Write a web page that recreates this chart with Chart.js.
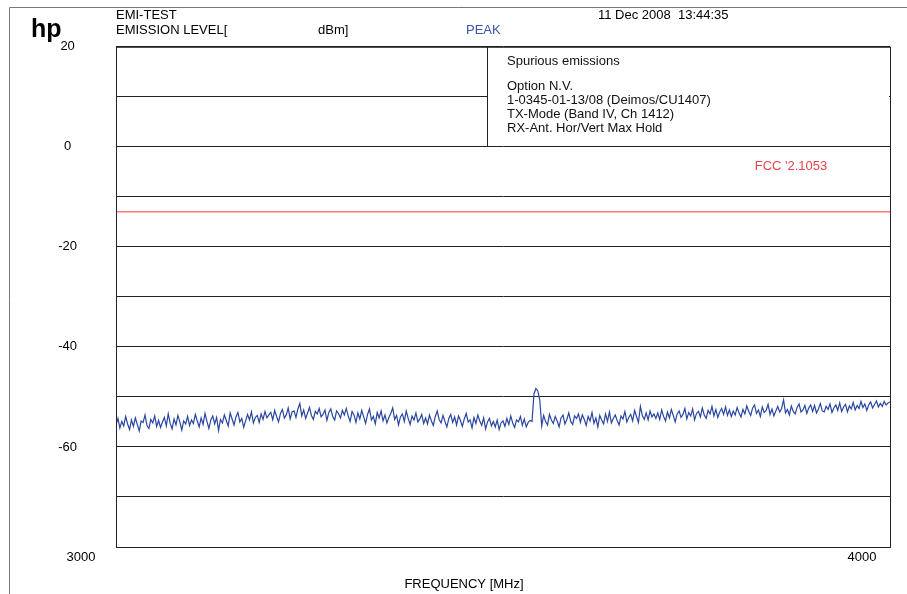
<!DOCTYPE html>
<html>
<head>
<meta charset="utf-8">
<script src="https://cdn.jsdelivr.net/npm/chart.js@4.4.1/dist/chart.umd.min.js"></script>
<style>
  html, body { margin: 0; padding: 0; background: #fff; }
  #wrap { width: 907px; height: 594px; }
</style>
</head>
<body>
<div id="wrap"><canvas id="emiChart" width="907" height="594"></canvas></div>
<script>
// sweep 3000..4000 MHz, one reading every 2.5 MHz
const sweepStart = 3000;
const sweepStep = 2.5;

// peak trace, dBm, one row per 100 MHz
const peakLevels = [
  -55.6,-54.3,-56.2,-54.9,-55.8,-53.9,-55.4,-56.5,-54.6,-55.9,-54.2,-55.5,-56.8,-54.8,-55.1,-53.6,-55.7,-56.3,-54.5,-55.2,-53.8,-55.9,-54.7,-56.1,-55.0,-54.1,-55.8,-53.4,-55.3,-56.4,-54.4,-55.6,-53.7,-55.0,-56.6,-54.8,-55.4,-53.9,-55.7,-54.6,
  -55.3,-53.5,-54.8,-56.0,-54.2,-55.5,-53.3,-54.9,-56.3,-54.6,-53.8,-55.4,-54.1,-56.7,-54.5,-55.2,-53.6,-54.7,-55.8,-53.2,-54.4,-55.6,-54.0,-53.1,-55.0,-54.3,-56.1,-54.8,-53.5,-54.6,-53.0,-55.2,-54.1,-53.7,-55.1,-53.4,-54.5,-52.9,-54.2,-53.6,
  -53.1,-54.6,-52.7,-53.9,-55.0,-53.3,-52.5,-54.2,-53.6,-52.2,-54.4,-53.0,-52.8,-54.1,-52.4,-51.3,-53.8,-52.6,-54.3,-53.2,-52.1,-53.7,-54.5,-52.9,-53.4,-52.3,-54.0,-53.5,-52.6,-54.7,-53.1,-52.4,-53.9,-54.6,-52.8,-53.3,-54.2,-52.7,-53.6,-52.3,
  -53.8,-54.9,-52.9,-53.6,-55.1,-53.2,-54.4,-52.7,-54.0,-55.3,-53.5,-52.4,-54.6,-53.9,-55.4,-53.1,-54.2,-52.8,-54.8,-53.6,-55.2,-54.1,-53.3,-52.2,-54.5,-53.7,-55.6,-54.0,-53.4,-54.9,-52.8,-54.3,-55.5,-53.8,-54.6,-53.2,-55.0,-54.4,-53.5,-55.3,
  -54.2,-55.4,-53.6,-54.8,-55.7,-53.9,-52.8,-54.5,-55.2,-53.7,-54.9,-56.0,-54.3,-53.5,-55.1,-54.0,-55.6,-53.8,-54.7,-55.9,-54.4,-53.3,-55.0,-54.6,-56.2,-54.1,-55.3,-53.6,-54.8,-55.7,-54.2,-56.4,-55.0,-54.3,-55.8,-54.9,-56.0,-54.6,-56.5,-55.2,
  -54.8,-55.9,-54.3,-55.5,-53.8,-55.2,-56.1,-54.6,-55.0,-53.9,-55.7,-54.4,-56.0,-55.1,-54.7,-54.9,-49.4,-48.3,-48.8,-50.6,-55.8,-53.7,-54.9,-55.6,-53.5,-54.6,-55.3,-53.9,-54.8,-56.0,-54.2,-53.6,-55.4,-54.5,-53.2,-54.9,-55.5,-53.8,-54.3,-53.4,
  -55.1,-53.6,-54.5,-55.7,-53.9,-54.8,-53.1,-55.3,-54.2,-56.0,-53.7,-54.6,-55.4,-53.4,-54.9,-53.0,-55.2,-54.3,-53.6,-54.7,-55.6,-53.8,-54.4,-52.9,-55.0,-54.1,-53.5,-54.8,-52.7,-53.9,-55.1,-51.9,-53.7,-54.5,-53.2,-54.6,-52.8,-54.0,-53.4,-54.3,
  -53.2,-54.5,-52.6,-53.9,-54.8,-53.0,-54.2,-52.5,-53.7,-55.0,-53.4,-52.8,-54.1,-53.5,-52.3,-54.4,-53.1,-53.8,-52.4,-54.6,-53.3,-52.9,-54.0,-52.2,-53.6,-54.3,-52.7,-53.4,-51.9,-53.8,-52.5,-54.1,-53.0,-52.3,-53.5,-52.0,-53.7,-52.6,-53.9,-52.8,
  -53.6,-52.1,-53.2,-54.0,-52.5,-53.4,-51.8,-52.9,-53.7,-52.2,-51.6,-53.3,-52.6,-53.9,-52.0,-53.1,-52.7,-51.5,-53.5,-52.4,-53.8,-52.8,-51.9,-53.0,-52.3,-50.6,-53.2,-52.5,-53.6,-51.8,-52.9,-53.4,-52.1,-51.4,-53.0,-52.6,-51.7,-53.3,-52.2,-51.6,
  -52.9,-51.7,-53.2,-52.4,-51.3,-52.8,-53.0,-51.9,-52.5,-51.4,-53.1,-52.2,-51.6,-52.7,-51.2,-52.9,-52.0,-51.5,-53.0,-51.8,-52.4,-51.1,-52.6,-51.7,-52.3,-50.9,-52.1,-51.4,-52.7,-51.6,-51.0,-52.2,-51.5,-50.8,-52.0,-51.3,-51.9,-50.9,-51.6,-51.2,
  -51.0
];

const limitFreqs = [3000, 4000];
const limitLevels = [-13, -13];

const yLabeled = [20, 0, -20, -40, -60];
const xLabels = ['3000', '4000'];

const infoLines = [
  'Option N.V.',
  '1-0345-01-13/08 (Deimos/CU1407)',
  'TX-Mode (Band IV, Ch 1412)',
  'RX-Ant. Hor/Vert Max Hold'
];

const freqs = peakLevels.map((v, i) => sweepStart + i * sweepStep);
const tracePts = peakLevels.map((v, i) => ({ x: freqs[i], y: v }));
const limitPts = limitLevels.map((v, i) => ({ x: limitFreqs[i], y: v }));

const FONT = '"Liberation Sans", Arial, sans-serif';

const overlay = {
  id: 'overlay',
  beforeDatasetsDraw(chart) {
    const { ctx, chartArea: a, scales: { y } } = chart;
    const boxL = 487;
    const boxB = y.getPixelForValue(0);
    ctx.save();
    // info box covers the 10 dBm grid line
    ctx.fillStyle = '#fff';
    ctx.fillRect(boxL + 1, a.top + 1, a.right - boxL - 2, boxB - a.top - 2);
    ctx.strokeStyle = '#222';
    ctx.lineWidth = 1;
    ctx.beginPath();
    ctx.moveTo(boxL + 0.5, a.top);
    ctx.lineTo(boxL + 0.5, boxB);
    ctx.stroke();

    ctx.fillStyle = '#111';
    ctx.font = '13px ' + FONT;
    ctx.textBaseline = 'middle';
    ctx.textAlign = 'left';
    ctx.fillText('Spurious emissions', 507, 61);
    infoLines.forEach((t, i) => ctx.fillText(t, 507, 86 + i * 14.2));
    ctx.restore();
  },
  afterDraw(chart) {
    const { ctx, chartArea: a, scales: { x } } = chart;
    ctx.save();
    // plot frame
    ctx.strokeStyle = '#222';
    ctx.lineWidth = 1;
    ctx.strokeRect(a.left + 0.5, a.top + 0.5, a.right - a.left, a.bottom - a.top);
    // outer page frame
    ctx.strokeStyle = '#777';
    ctx.beginPath();
    ctx.moveTo(9.5, 594);
    ctx.lineTo(9.5, 7.5);
    ctx.lineTo(907, 7.5);
    ctx.stroke();

    ctx.fillStyle = '#000';
    ctx.font = 'bold 25px ' + FONT;
    ctx.textAlign = 'left';
    ctx.textBaseline = 'alphabetic';
    ctx.fillText('hp', 31, 37);

    ctx.textBaseline = 'middle';
    ctx.font = '13px ' + FONT;
    ctx.fillText('EMI-TEST', 116, 15);
    ctx.fillText('EMISSION LEVEL[', 116, 30);
    ctx.fillText('dBm]', 318, 30);
    ctx.fillText('11 Dec 2008  13:44:35', 598, 15);
    ctx.fillStyle = '#3a55a8';
    ctx.fillText('PEAK', 466, 30);

    ctx.fillStyle = '#e8424a';
    ctx.textAlign = 'center';
    ctx.fillText("FCC '2.1053", 791, 166);

    ctx.fillStyle = '#000';
    ctx.fillText(xLabels[0], x.getPixelForValue(3000) - 35, 557);
    ctx.fillText(xLabels[1], x.getPixelForValue(4000) - 28, 557);
    ctx.fillText('FREQUENCY [MHz]', (a.left + a.right) / 2 - 39, 584);
    ctx.restore();
  }
};

new Chart(document.getElementById('emiChart').getContext('2d'), {
  type: 'line',
  data: {
    datasets: [
      {
        label: 'Peak',
        data: tracePts,
        borderColor: '#2a47a0',
        borderWidth: 1.2,
        pointRadius: 0,
        tension: 0
      },
      {
        label: 'Limit',
        data: limitPts,
        borderColor: '#ee3b3b',
        borderWidth: 1,
        pointRadius: 0,
        tension: 0
      }
    ]
  },
  options: {
    responsive: false,
    animation: false,
    layout: { padding: { top: 43, right: 17, bottom: 47, left: 0 } },
    plugins: { legend: { display: false }, tooltip: { enabled: false } },
    scales: {
      x: { type: 'linear', display: false, min: 3000, max: 4000 },
      y: {
        min: -80,
        max: 20,
        afterFit(scale) { scale.width = 116; },
        border: { display: true, color: '#222', width: 1 },
        grid: { color: '#222', lineWidth: 1, drawTicks: false },
        ticks: {
          stepSize: 10,
          crossAlign: 'center',
          padding: 39,
          color: '#000',
          font: { family: FONT, size: 13 },
          callback: v => yLabeled.includes(v) ? String(v) : ''
        }
      }
    }
  },
  plugins: [overlay]
});
</script>
</body>
</html>
